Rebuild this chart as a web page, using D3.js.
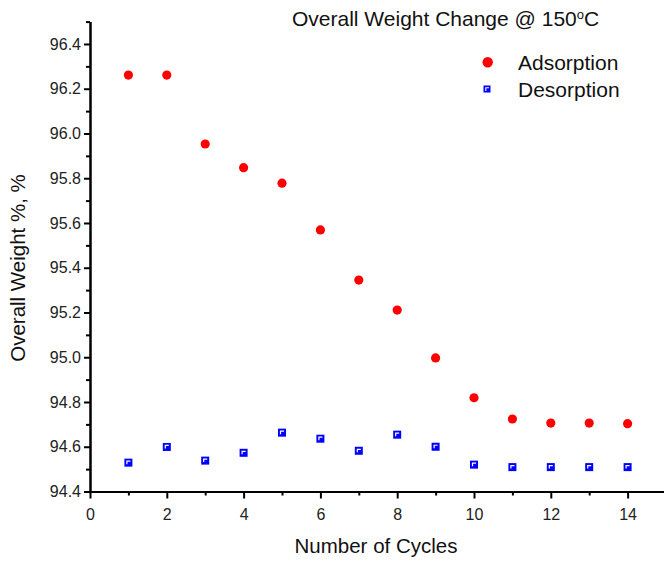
<!DOCTYPE html>
<html>
<head>
<meta charset="utf-8">
<script src="https://cdn.jsdelivr.net/npm/d3@7/dist/d3.min.js"></script>
<style>
  body { margin: 0; background: #fff; }
  svg { display: block; font-family: "Liberation Sans", Arial, sans-serif; }
  .axis path, .axis line { stroke: #000; stroke-width: 2; }
  .axis text { font-size: 16px; fill: #222; }
</style>
</head>
<body>
<div id="chart"></div>
<script>
// Data
var cycles = [1, 2, 3, 4, 5, 6, 7, 8, 9, 10, 11, 12, 13, 14];
var adsorption = [96.261, 96.261, 95.953, 95.847, 95.778, 95.569, 95.345, 95.211, 94.997, 94.819, 94.724, 94.706, 94.706, 94.703];
var desorption = [94.529, 94.599, 94.538, 94.573, 94.663, 94.636, 94.582, 94.654, 94.600, 94.520, 94.509, 94.509, 94.509, 94.509];
var xTicks = [0, 2, 4, 6, 8, 10, 12, 14];
var xMinor = [1, 3, 5, 7, 9, 11, 13, 15];
var yTicks = [94.4, 94.6, 94.8, 95.0, 95.2, 95.4, 95.6, 95.8, 96.0, 96.2, 96.4];
var yMinor = [94.5, 94.7, 94.9, 95.1, 95.3, 95.5, 95.7, 95.9, 96.1, 96.3, 96.5];

var svgWidth = 664;
var svgHeight = 563;
var margin = { top: 21.6, left: 90, bottom: 71.5 };

var width = 576;
var height = svgHeight - margin.top - margin.bottom;

var svg = d3.select("#chart")
    .append("svg")
    .attr("width", svgWidth)
    .attr("height", svgHeight);

var chartGroup = svg.append("g")
    .attr("transform", `translate(${margin.left}, ${margin.top})`);

// Scales
var xScale = d3.scaleLinear().domain([0, 15]).range([0, width]);
var yScale = d3.scaleLinear().domain([94.4, 96.5]).range([height, 0]);

// Minor ticks first, majors on top
chartGroup.append("g")
    .attr("class", "axis")
    .attr("transform", `translate(0, ${height})`)
    .call(d3.axisBottom(xScale).tickValues(xMinor).tickSize(4).tickSizeOuter(0).tickFormat(""));

chartGroup.append("g")
    .attr("class", "axis")
    .call(d3.axisLeft(yScale).tickValues(yMinor).tickSize(4).tickSizeOuter(0).tickFormat(""));

chartGroup.append("g")
    .attr("class", "axis")
    .attr("transform", `translate(0, ${height})`)
    .call(d3.axisBottom(xScale).tickValues(xTicks).tickSize(7).tickSizeOuter(0).tickPadding(10).tickFormat(d3.format("d")));

chartGroup.append("g")
    .attr("class", "axis")
    .call(d3.axisLeft(yScale).tickValues(yTicks).tickSize(6).tickSizeOuter(0).tickPadding(3).tickFormat(d3.format(".1f")));

// Adsorption points
chartGroup.selectAll(".ads")
    .data(cycles)
    .enter()
    .append("circle")
    .attr("class", "ads")
    .attr("cx", (d, i) => xScale(d))
    .attr("cy", (d, i) => yScale(adsorption[i]))
    .attr("r", 4.6)
    .attr("fill", "#ff0000");

// Desorption points
var desGroup = chartGroup.selectAll(".des")
    .data(cycles)
    .enter()
    .append("g")
    .attr("class", "des")
    .attr("transform", (d, i) => `translate(${xScale(d)}, ${yScale(desorption[i])})`);

desGroup.append("rect")
    .attr("x", -4).attr("y", -4)
    .attr("width", 8).attr("height", 8)
    .attr("fill", "#0000ff");

desGroup.append("path")
    .attr("d", "M-1.5,1.5V-1.5H2")
    .attr("fill", "none")
    .attr("stroke", "#fff")
    .attr("stroke-width", 1.2);

// Title
var title = svg.append("text")
    .attr("x", 292)
    .attr("y", 26)
    .attr("font-size", 21)
    .attr("fill", "#111");
title.append("tspan").text("Overall Weight Change @ 150");
title.append("tspan").attr("font-size", 13).attr("dy", -7).text("o");
title.append("tspan").attr("dy", 7).text("C");

// Legend
svg.append("circle")
    .attr("cx", 487.7).attr("cy", 62.3).attr("r", 5.2)
    .attr("fill", "#ff0000");
svg.append("text")
    .attr("x", 518).attr("y", 70)
    .attr("font-size", 21).attr("fill", "#111")
    .text("Adsorption");

svg.append("rect")
    .attr("x", 483.5).attr("y", 85.5)
    .attr("width", 7).attr("height", 7)
    .attr("fill", "#0000ff");
svg.append("path")
    .attr("d", "M485.8,91V87.8H489")
    .attr("fill", "none").attr("stroke", "#fff").attr("stroke-width", 1.1);
svg.append("text")
    .attr("x", 518).attr("y", 96.5)
    .attr("font-size", 21).attr("fill", "#111")
    .text("Desorption");

// Axis titles
svg.append("text")
    .attr("x", 376)
    .attr("y", 553)
    .attr("text-anchor", "middle")
    .attr("font-size", 20.5)
    .attr("fill", "#111")
    .text("Number of Cycles");

svg.append("text")
    .attr("transform", "rotate(-90)")
    .attr("x", -268)
    .attr("y", 25)
    .attr("text-anchor", "middle")
    .attr("font-size", 20.5)
    .attr("fill", "#111")
    .text("Overall Weight %, %");
</script>
</body>
</html>
